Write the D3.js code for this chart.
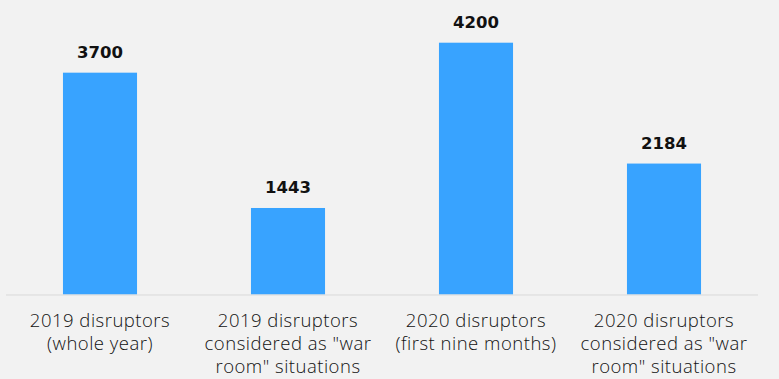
<!DOCTYPE html>
<html>
<head>
<meta charset="utf-8">
<script src="https://cdn.jsdelivr.net/npm/d3@7"></script>
<style>
  html, body { margin: 0; padding: 0; background: #f2f2f2; }
  svg { display: block; }
</style>
</head>
<body>
<svg id="chart" width="779" height="379"></svg>
<script>
// Disruptor counts, 2019 vs 2020
const categories = [
  "2019 disruptors\n(whole year)",
  "2019 disruptors\nconsidered as \"war\nroom\" situations",
  "2020 disruptors\n(first nine months)",
  "2020 disruptors\nconsidered as \"war\nroom\" situations"
];
const values = [3700, 1443, 4200, 2184];

const width = 779, height = 379;
const svg = d3.select("#chart");

svg.append("rect").attr("width", width).attr("height", height).attr("fill", "#f2f2f2");

const x = d3.scaleBand()
  .domain(categories)
  .range([6, 758])
  .paddingInner(0.606)
  .paddingOuter(0.303);

const y = d3.scaleLinear()
  .domain([0, 4200])
  .range([294.5, 42.7]);

// bars
svg.append("g")
  .selectAll("rect")
  .data(values)
  .join("rect")
  .attr("x", (d, i) => x(categories[i]))
  .attr("y", d => y(d))
  .attr("width", x.bandwidth())
  .attr("height", d => y(0) - y(d))
  .attr("fill", "#38a3ff");

// baseline
svg.append("line")
  .attr("x1", 6).attr("x2", 758)
  .attr("y1", y(0) + 0.5).attr("y2", y(0) + 0.5)
  .attr("stroke", "#d9d9d9")
  .attr("stroke-width", 1);

// value labels
svg.append("g")
  .selectAll("text")
  .data(values)
  .join("text")
  .attr("x", (d, i) => x(categories[i]) + x.bandwidth() / 2)
  .attr("y", d => y(d) - 14.7)
  .attr("text-anchor", "middle")
  .attr("font-family", "DejaVu Sans, sans-serif")
  .attr("font-weight", "bold")
  .attr("font-size", 16.5)
  .attr("fill", "#111")
  .text(d => d);

// category labels
const labels = svg.append("g")
  .selectAll("text")
  .data(categories)
  .join("text")
  .attr("x", d => x(d) + x.bandwidth() / 2)
  .attr("y", 326.7)
  .attr("text-anchor", "middle")
  .attr("font-family", "'Open Sans', sans-serif")
  .attr("font-weight", 300)
  .attr("font-size", 18.5)
  .attr("letter-spacing", 0.5)
  .attr("fill", "#111");

labels.selectAll("tspan")
  .data(d => d.split("\n"))
  .join("tspan")
  .attr("x", function () { return d3.select(this.parentNode).attr("x"); })
  .attr("dy", (d, i) => i === 0 ? 0 : 23)
  .text(d => d);
</script>
</body>
</html>
